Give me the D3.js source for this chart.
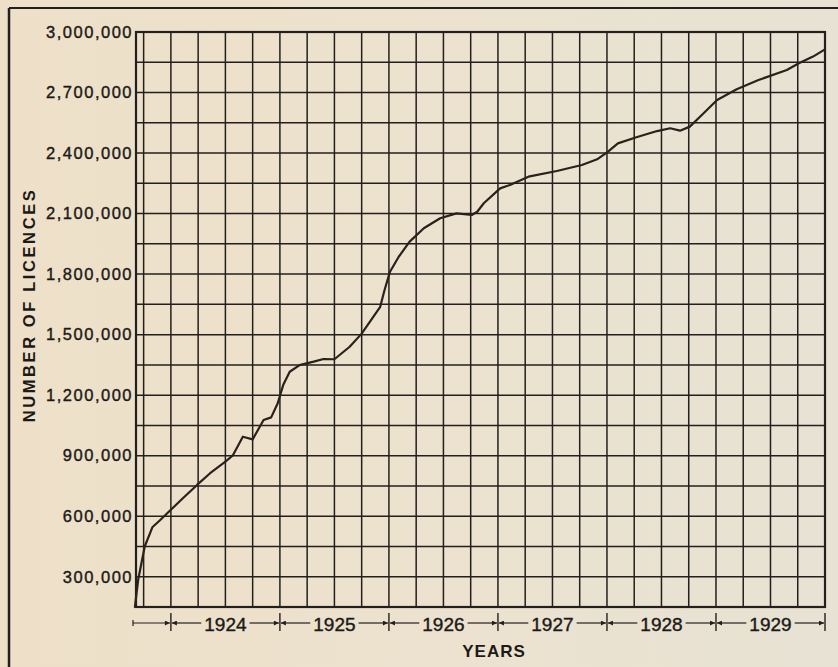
<!DOCTYPE html>
<html>
<head>
<meta charset="utf-8">
<script src="https://cdn.jsdelivr.net/npm/d3@7"></script>
<style>
  html, body { margin: 0; padding: 0; background: #ebe1cd; }
  svg { display: block; }
</style>
</head>
<body>
<svg id="chart" width="838" height="667"></svg>
<script>
// ---- data ----
const dates = [1923.67, 1923.70, 1923.76, 1923.83, 1923.90, 1923.99, 1924.11, 1924.24, 1924.36, 1924.50,
  1924.57, 1924.66, 1924.75, 1924.85, 1924.92, 1924.98, 1925.03, 1925.09, 1925.18, 1925.31,
  1925.40, 1925.50, 1925.64, 1925.75, 1925.92, 1925.96, 1926.01, 1926.09, 1926.19, 1926.32,
  1926.47, 1926.62, 1926.76, 1926.81, 1926.87, 1927.02, 1927.11, 1927.28, 1927.54, 1927.77,
  1927.91, 1928.01, 1928.10, 1928.27, 1928.46, 1928.58, 1928.67, 1928.76, 1928.87, 1929.01,
  1929.19, 1929.39, 1929.65, 1929.76, 1929.89, 1930.00];
const licences = [150000, 285000, 450000, 545000, 580000, 627000, 689000, 755000, 813000, 870000,
  903000, 994000, 981000, 1077000, 1090000, 1160000, 1250000, 1316000, 1349000, 1366000,
  1379000, 1378000, 1440000, 1505000, 1638000, 1721000, 1812000, 1886000, 1961000, 2027000,
  2077000, 2101000, 2093000, 2109000, 2151000, 2225000, 2242000, 2283000, 2311000, 2341000,
  2369000, 2407000, 2448000, 2478000, 2509000, 2523000, 2511000, 2531000, 2589000, 2663000,
  2716000, 2762000, 2812000, 2845000, 2878000, 2914000];
const years = [1924, 1925, 1926, 1927, 1928, 1929];
const yTickValues = [300000, 600000, 900000, 1200000, 1500000, 1800000, 2100000, 2400000, 2700000, 3000000];
const yTitle = "NUMBER OF LICENCES";
const xTitle = "YEARS";

(function () {
// ---- layout ----
const svg = d3.select("#chart");
const W = 838, H = 667;
const pL = 136, pR = 825, pT = 32, pB = 607;
const xStart = 1923.68, xEnd = 1930;
const yMin = 150000, yMax = 3000000;

const x = d3.scaleLinear().domain([xStart, xEnd]).range([pL, pR]);
const y = d3.scaleLinear().domain([yMin, yMax]).range([pB, pT]);

const ink = "#231f1c";
const txt = "#1c1a18";

// paper background
const defs = svg.append("defs");
const grad = defs.append("linearGradient").attr("id", "paper").attr("x1", "0").attr("x2", "1").attr("y1", "0").attr("y2", "0");
grad.append("stop").attr("offset", "0").attr("stop-color", "#eee0c8");
grad.append("stop").attr("offset", "0.55").attr("stop-color", "#ece2cf");
grad.append("stop").attr("offset", "1").attr("stop-color", "#e7e2d4");
svg.append("rect").attr("width", W).attr("height", H).attr("fill", "url(#paper)");

const mk = defs.append("marker").attr("id", "arrow").attr("viewBox", "0 0 10 10")
  .attr("refX", 10).attr("refY", 5).attr("markerWidth", 9).attr("markerHeight", 5)
  .attr("markerUnits", "userSpaceOnUse").attr("orient", "auto-start-reverse");
mk.append("path").attr("d", "M0,0 L10,5 L0,10 Z").attr("fill", ink);

// outer frame lines
svg.append("line").attr("x1", 9).attr("x2", W).attr("y1", 8).attr("y2", 8)
  .attr("stroke", ink).attr("stroke-width", 2);
svg.append("line").attr("x1", 9).attr("x2", 9).attr("y1", 8).attr("y2", H)
  .attr("stroke", ink).attr("stroke-width", 2.5);

// grid
const g = svg.append("g");
const quarterLines = d3.range(1923.75, 1930, 0.25);
g.selectAll("line.v").data(quarterLines).join("line")
  .attr("x1", d => x(d)).attr("x2", d => x(d)).attr("y1", pT).attr("y2", pB)
  .attr("stroke", ink).attr("stroke-width", 1.5);
const hLines = d3.range(yMin + 150000, yMax, 150000);
g.selectAll("line.h").data(hLines).join("line")
  .attr("x1", pL).attr("x2", pR).attr("y1", d => y(d)).attr("y2", d => y(d))
  .attr("stroke", ink).attr("stroke-width", 1.5);
g.append("rect").attr("x", pL).attr("y", pT).attr("width", pR - pL).attr("height", pB - pT)
  .attr("fill", "none").attr("stroke", ink).attr("stroke-width", 2.2);

// y axis labels
const yAxis = d3.axisLeft(y).tickValues(yTickValues).tickSize(0).tickPadding(3)
  .tickFormat(d3.format(","));
const ya = svg.append("g").attr("transform", `translate(${pL},0)`).call(yAxis);
ya.select(".domain").remove();
ya.selectAll("text").attr("fill", txt).attr("stroke", txt).attr("stroke-width", 0.4)
  .style("font-family", "'Liberation Sans', Arial, sans-serif")
  .style("font-size", "16.5px").style("letter-spacing", "1.5px");

// y title
svg.append("text").attr("transform", "translate(35,305) rotate(-90)")
  .attr("text-anchor", "middle").attr("fill", txt)
  .style("font-family", "'Liberation Sans', Arial, sans-serif")
  .style("font-size", "16.5px").style("font-weight", "bold").style("letter-spacing", "2.6px")
  .text(yTitle);

// the curve
const line = d3.line().x((d, i) => x(dates[i])).y(d => y(d)).curve(d3.curveLinear);
svg.append("path").datum(licences).attr("d", line)
  .attr("fill", "none").attr("stroke", "#2a211b").attr("stroke-width", 2.2)
  .attr("stroke-linejoin", "round").attr("stroke-linecap", "round");

// bottom year annotation
const ay = 623;
const xa = svg.append("g");
const bounds = [1924, 1925, 1926, 1927, 1928, 1929, 1930];
xa.selectAll("line.tk").data(bounds).join("line")
  .attr("x1", d => x(d)).attr("x2", d => x(d)).attr("y1", 613).attr("y2", 631)
  .attr("stroke", ink).attr("stroke-width", 1.4);
// first partial segment
xa.append("line").attr("x1", pL - 3).attr("x2", pL - 3).attr("y1", 620).attr("y2", 626)
  .attr("stroke", ink).attr("stroke-width", 1.2);
xa.append("line").attr("x1", pL - 3).attr("x2", x(1924) - 1).attr("y1", ay).attr("y2", ay)
  .attr("stroke", ink).attr("stroke-width", 1.2).attr("marker-end", "url(#arrow)");
years.forEach(yr => {
  const cx = (x(yr) + x(yr + 1)) / 2;
  const t = xa.append("text").attr("x", cx).attr("y", 631).attr("text-anchor", "middle")
    .attr("fill", txt).attr("stroke", txt).attr("stroke-width", 0.4)
    .style("font-family", "'Liberation Sans', Arial, sans-serif").style("font-size", "19px")
    .text(yr);
  const w = t.node().getComputedTextLength();
  xa.append("line").attr("x1", cx - w / 2 - 3).attr("x2", x(yr) + 1).attr("y1", ay).attr("y2", ay)
    .attr("stroke", ink).attr("stroke-width", 1.2).attr("marker-end", "url(#arrow)");
  xa.append("line").attr("x1", cx + w / 2 + 3).attr("x2", x(yr + 1) - 1).attr("y1", ay).attr("y2", ay)
    .attr("stroke", ink).attr("stroke-width", 1.2).attr("marker-end", "url(#arrow)");
});

svg.append("text").attr("x", 494).attr("y", 657).attr("text-anchor", "middle")
  .attr("fill", txt)
  .style("font-family", "'Liberation Sans', Arial, sans-serif")
  .style("font-size", "17px").style("font-weight", "bold").style("letter-spacing", "1px")
  .text(xTitle);
})();
</script>
</body>
</html>
